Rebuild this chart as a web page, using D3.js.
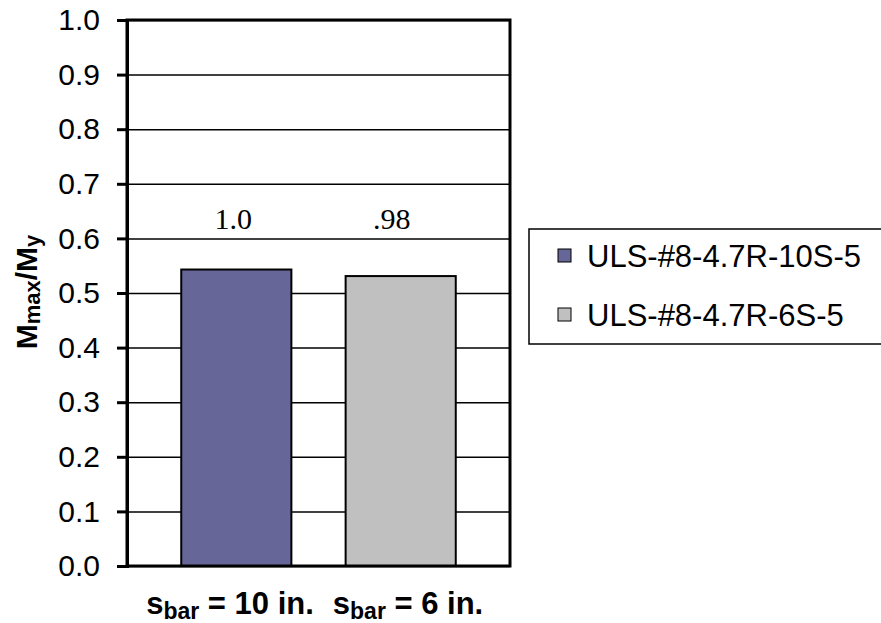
<!DOCTYPE html>
<html>
<head>
<meta charset="utf-8">
<script src="https://cdn.jsdelivr.net/npm/d3@7"></script>
<style>
  html, body { margin: 0; padding: 0; background: #fff; }
  svg { display: block; }
</style>
</head>
<body>
<svg id="chart" width="881" height="623"></svg>
<script>
// Specimens and their normalized peak moments
const series = ["ULS-#8-4.7R-10S-5", "ULS-#8-4.7R-6S-5"];
const values = [0.543, 0.531];
const colors = ["#666699", "#C0C0C0"];
// Ratio of each specimen to the 10 in. spacing specimen
const ratioLabels = ["1.0", ".98"];
// Bar spacing labels
const spacingMain = ["s", "s"];
const spacingSub = ["bar", "bar"];
const spacingRest = [" = 10 in.", " = 6 in."];
// Value axis ticks
const yTicks = [0, 0.1, 0.2, 0.3, 0.4, 0.5, 0.6, 0.7, 0.8, 0.9, 1.0];
const yTickLabels = ["0.0", "0.1", "0.2", "0.3", "0.4", "0.5", "0.6", "0.7", "0.8", "0.9", "1.0"];

const svg = d3.select("#chart");
const plot = { left: 127, right: 510, top: 20, bottom: 566 };

const y = d3.scaleLinear().domain([0, 1]).range([plot.bottom, plot.top]);
const x = d3.scaleBand().domain(series).range([plot.left, plot.right])
  .paddingInner(0.33).paddingOuter(0.33);

// Horizontal gridlines
const grid = svg.append("g").attr("transform", `translate(${plot.left},0)`)
  .call(d3.axisLeft(y).tickValues(yTicks).tickSize(-(plot.right - plot.left)).tickFormat(""));
grid.select(".domain").remove();
grid.selectAll("line").attr("stroke", "#000").attr("stroke-width", 1.5);

// Bars
svg.append("g").selectAll("rect").data(series).join("rect")
  .attr("x", d => x(d))
  .attr("y", (d, i) => y(values[i]))
  .attr("width", x.bandwidth())
  .attr("height", (d, i) => y(0) - y(values[i]))
  .attr("fill", (d, i) => colors[i])
  .attr("stroke", "#000")
  .attr("stroke-width", 2);

// Ratio labels above bars
svg.append("g").selectAll("text").data(series).join("text")
  .attr("x", (d, i) => x(d) + x.bandwidth() / 2 - (i === 0 ? 3 : 9))
  .attr("y", y(0.617))
  .attr("text-anchor", "middle")
  .attr("font-family", "'Liberation Serif', 'Times New Roman', serif")
  .attr("font-size", 30)
  .attr("fill", "#000")
  .text((d, i) => ratioLabels[i]);

// Plot frame
svg.append("rect")
  .attr("x", plot.left).attr("y", plot.top)
  .attr("width", plot.right - plot.left).attr("height", plot.bottom - plot.top)
  .attr("fill", "none").attr("stroke", "#000").attr("stroke-width", 3);

// Value axis
const yAxis = svg.append("g").attr("transform", `translate(${plot.left},0)`)
  .call(d3.axisLeft(y).tickValues(yTicks).tickSize(10).tickPadding(17)
    .tickFormat((d, i) => yTickLabels[i]));
yAxis.select(".domain").attr("stroke", "#000").attr("stroke-width", 3);
yAxis.selectAll(".tick line").attr("stroke", "#000").attr("stroke-width", 3);
yAxis.selectAll(".tick text")
  .attr("font-family", "'Liberation Sans', Arial, sans-serif")
  .attr("font-size", 30)
  .attr("fill", "#000");

// Value axis title
const yTitle = svg.append("text")
  .attr("transform", `translate(37,292) rotate(-90)`)
  .attr("text-anchor", "middle")
  .attr("font-family", "'Liberation Sans', Arial, sans-serif")
  .attr("font-weight", "bold")
  .attr("font-size", 30)
  .attr("fill", "#000");
yTitle.append("tspan").text("M");
yTitle.append("tspan").attr("font-size", 22).attr("dy", 3).text("max");
yTitle.append("tspan").attr("dy", -3).text("/M");
yTitle.append("tspan").attr("font-size", 22).attr("dy", 3).text("y");

// Category labels
const catCenters = [230, 408];
series.forEach((s, i) => {
  const t = svg.append("text")
    .attr("x", catCenters[i]).attr("y", 614)
    .attr("text-anchor", "middle")
    .attr("font-family", "'Liberation Sans', Arial, sans-serif")
    .attr("font-weight", "bold")
    .attr("font-size", 31)
    .attr("fill", "#000");
  t.append("tspan").text(spacingMain[i]);
  t.append("tspan").attr("font-size", 23).attr("dy", 5).text(spacingSub[i]);
  t.append("tspan").attr("dy", -5).text(spacingRest[i]);
});

// Legend
const legend = svg.append("g");
legend.append("rect")
  .attr("x", 529).attr("y", 229).attr("width", 400).attr("height", 115)
  .attr("fill", "#fff").attr("stroke", "#000").attr("stroke-width", 1.5);
const rowY = [267, 326];
series.forEach((s, i) => {
  legend.append("rect")
    .attr("x", 558).attr("y", rowY[i] - 18).attr("width", 13).attr("height", 13)
    .attr("fill", colors[i]).attr("stroke", "#000").attr("stroke-width", 1);
  legend.append("text")
    .attr("x", 587).attr("y", rowY[i])
    .attr("font-family", "'Liberation Sans', Arial, sans-serif")
    .attr("font-size", 31)
    .attr("fill", "#000")
    .text(s);
});
</script>
</body>
</html>
